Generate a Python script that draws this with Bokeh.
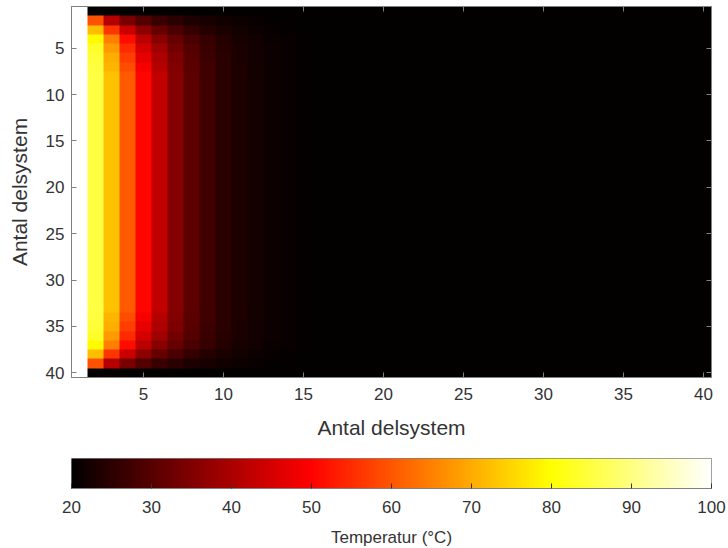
import numpy as np
from bokeh.plotting import figure
from bokeh.models import LinearColorMapper, LinearAxis, FixedTicker
from bokeh.layouts import column
from bokeh.embed import file_html
from bokeh.resources import INLINE

# Temperature field (°C) on a 40 x 40 grid of subsystems.
# Column 1 is the hot boundary (100 °C); rows 1 and 40 are held at 20 °C.
N = 40
T_MIN, T_MAX = 20, 100
edge_row = [100, 20, 20, 20, 20, 20, 20, 20, 20, 20, 20, 20, 20, 20, 20, 20]
row_2 = [100, 59.4, 41.0, 34.0, 29.4, 26.5, 24.7, 23.4, 22.5, 21.8, 21.3, 20.9, 20.6, 20.4, 20.2, 20.1]
row_3 = [100, 72.0, 56.0, 43.5, 36.5, 31.8, 28.5, 26.1, 24.3, 23.0, 22.1, 21.4, 20.9, 20.6, 20.3, 20.1]
row_4 = [100, 79.5, 64.7, 51.0, 41.8, 35.9, 31.6, 28.4, 26.0, 24.1, 22.8, 21.9, 21.2, 20.7, 20.4, 20.2]
row_5 = [100, 83.0, 68.0, 54.7, 44.7, 38.6, 33.4, 29.6, 26.7, 24.5, 23.0, 22.0, 21.3, 20.8, 20.4, 20.2]
row_6 = [100, 84.3, 70.0, 57.0, 47.0, 40.0, 34.4, 30.2, 27.0, 24.7, 23.1, 22.1, 21.3, 20.8, 20.4, 20.2]
row_7 = [100, 84.7, 71.2, 58.8, 48.8, 41.2, 35.1, 30.5, 27.2, 24.8, 23.2, 22.1, 21.4, 20.8, 20.4, 20.2]
row_mid = [100, 85.0, 72.5, 60.5, 50.5, 42.6, 35.5, 30.7, 27.3, 24.9, 23.3, 22.2, 21.4, 20.9, 20.5, 20.2]

top_rows = [edge_row, row_2, row_3, row_4, row_5, row_6, row_7]
rows = top_rows + [row_mid] * (N - 2 * len(top_rows)) + top_rows[::-1]
grid = np.full((N, N), float(T_MIN))
for i, r in enumerate(rows):
    grid[i, :len(r)] = r

x_ticks = [5, 10, 15, 20, 25, 30, 35, 40]
y_ticks = [5, 10, 15, 20, 25, 30, 35, 40]
cb_ticks = [20, 30, 40, 50, 60, 70, 80, 90, 100]


def hot(n):
    """MATLAB-style 'hot' colormap as hex strings."""
    n1 = int(3 * n / 8)
    n2 = n1
    n3 = n - n1 - n2
    r = np.concatenate([np.arange(1, n1 + 1) / n1, np.ones(n - n1)])
    g = np.concatenate([np.zeros(n1), np.arange(1, n2 + 1) / n2, np.ones(n3)])
    b = np.concatenate([np.zeros(n1 + n2), np.arange(1, n3 + 1) / n3])
    return ["#%02x%02x%02x" % (int(round(a * 255)), int(round(c * 255)), int(round(d * 255)))
            for a, c, d in zip(r, g, b)]


palette = hot(256)
mapper = LinearColorMapper(palette=palette, low=T_MIN, high=T_MAX)

FONT = "Liberation Sans"
AXIS_GRAY = "#808080"
TEXT_GRAY = "#333333"

p = figure(frame_width=640, frame_height=371, x_range=(0.5, N + 0.5), y_range=(N + 0.5, 0.5),
           output_backend="svg", toolbar_location=None,
           min_border_left=71, min_border_right=17, min_border_top=6, min_border_bottom=63)
p.image(image=[grid], x=0.5, y=0.5, dw=N, dh=N, color_mapper=mapper)

p.grid.visible = False
p.outline_line_color = AXIS_GRAY
p.background_fill_color = "white"
for ax in (p.xaxis[0], p.yaxis[0]):
    ax.major_tick_in = 5
    ax.major_tick_out = 0
    ax.minor_tick_in = 0
    ax.minor_tick_out = 0
    ax.axis_line_color = AXIS_GRAY
    ax.major_tick_line_color = AXIS_GRAY
    ax.major_label_text_font = FONT
    ax.major_label_text_font_size = "17px"
    ax.major_label_text_color = TEXT_GRAY
    ax.axis_label = "Antal delsystem"
    ax.axis_label_text_font = FONT
    ax.axis_label_text_font_size = "21px"
    ax.axis_label_text_font_style = "normal"
    ax.axis_label_text_color = TEXT_GRAY
p.xaxis[0].ticker = FixedTicker(ticks=x_ticks)
p.yaxis[0].ticker = FixedTicker(ticks=y_ticks)
p.xaxis[0].major_label_standoff = 10
p.xaxis[0].axis_label_standoff = 13
p.yaxis[0].major_label_standoff = 7
p.yaxis[0].axis_label_standoff = 12

# Tick marks on the opposite sides of the box, without labels
for side, ticks in (("above", x_ticks), ("right", y_ticks)):
    ax = LinearAxis(ticker=FixedTicker(ticks=ticks), major_tick_in=5, major_tick_out=0,
                    minor_tick_in=0, minor_tick_out=0, axis_line_color=AXIS_GRAY,
                    major_tick_line_color=AXIS_GRAY, major_label_text_font_size="0px",
                    major_label_overrides={t: "" for t in ticks}, major_label_standoff=0)
    p.add_layout(ax, side)

# Colour bar drawn as its own strip
cb = figure(frame_width=640, frame_height=30, x_range=(T_MIN, T_MAX), y_range=(0, 1),
            output_backend="svg", toolbar_location=None,
            min_border_left=71, min_border_right=17, min_border_top=17, min_border_bottom=4)
grad = np.linspace(T_MIN, T_MAX, 512).reshape(1, -1)
cb.image(image=[grad], x=T_MIN, y=0, dw=T_MAX - T_MIN, dh=1, color_mapper=mapper)
cb.grid.visible = False
cb.yaxis.visible = False
cb.outline_line_color = AXIS_GRAY
cax = cb.xaxis[0]
cax.ticker = FixedTicker(ticks=cb_ticks)
cax.major_tick_in = 5
cax.major_tick_out = 0
cax.minor_tick_in = 0
cax.minor_tick_out = 0
cax.axis_line_color = AXIS_GRAY
cax.major_tick_line_color = TEXT_GRAY
cax.major_label_text_font = FONT
cax.major_label_text_font_size = "17px"
cax.major_label_text_color = TEXT_GRAY
cax.major_label_standoff = 12
cax.axis_label = "Temperatur (°C)"
cax.axis_label_text_font = FONT
cax.axis_label_text_font_size = "17px"
cax.axis_label_text_font_style = "normal"
cax.axis_label_text_color = TEXT_GRAY
cax.axis_label_standoff = 12

layout = column(p, cb, spacing=0)
open("out.html", "w").write(file_html(layout, INLINE))
